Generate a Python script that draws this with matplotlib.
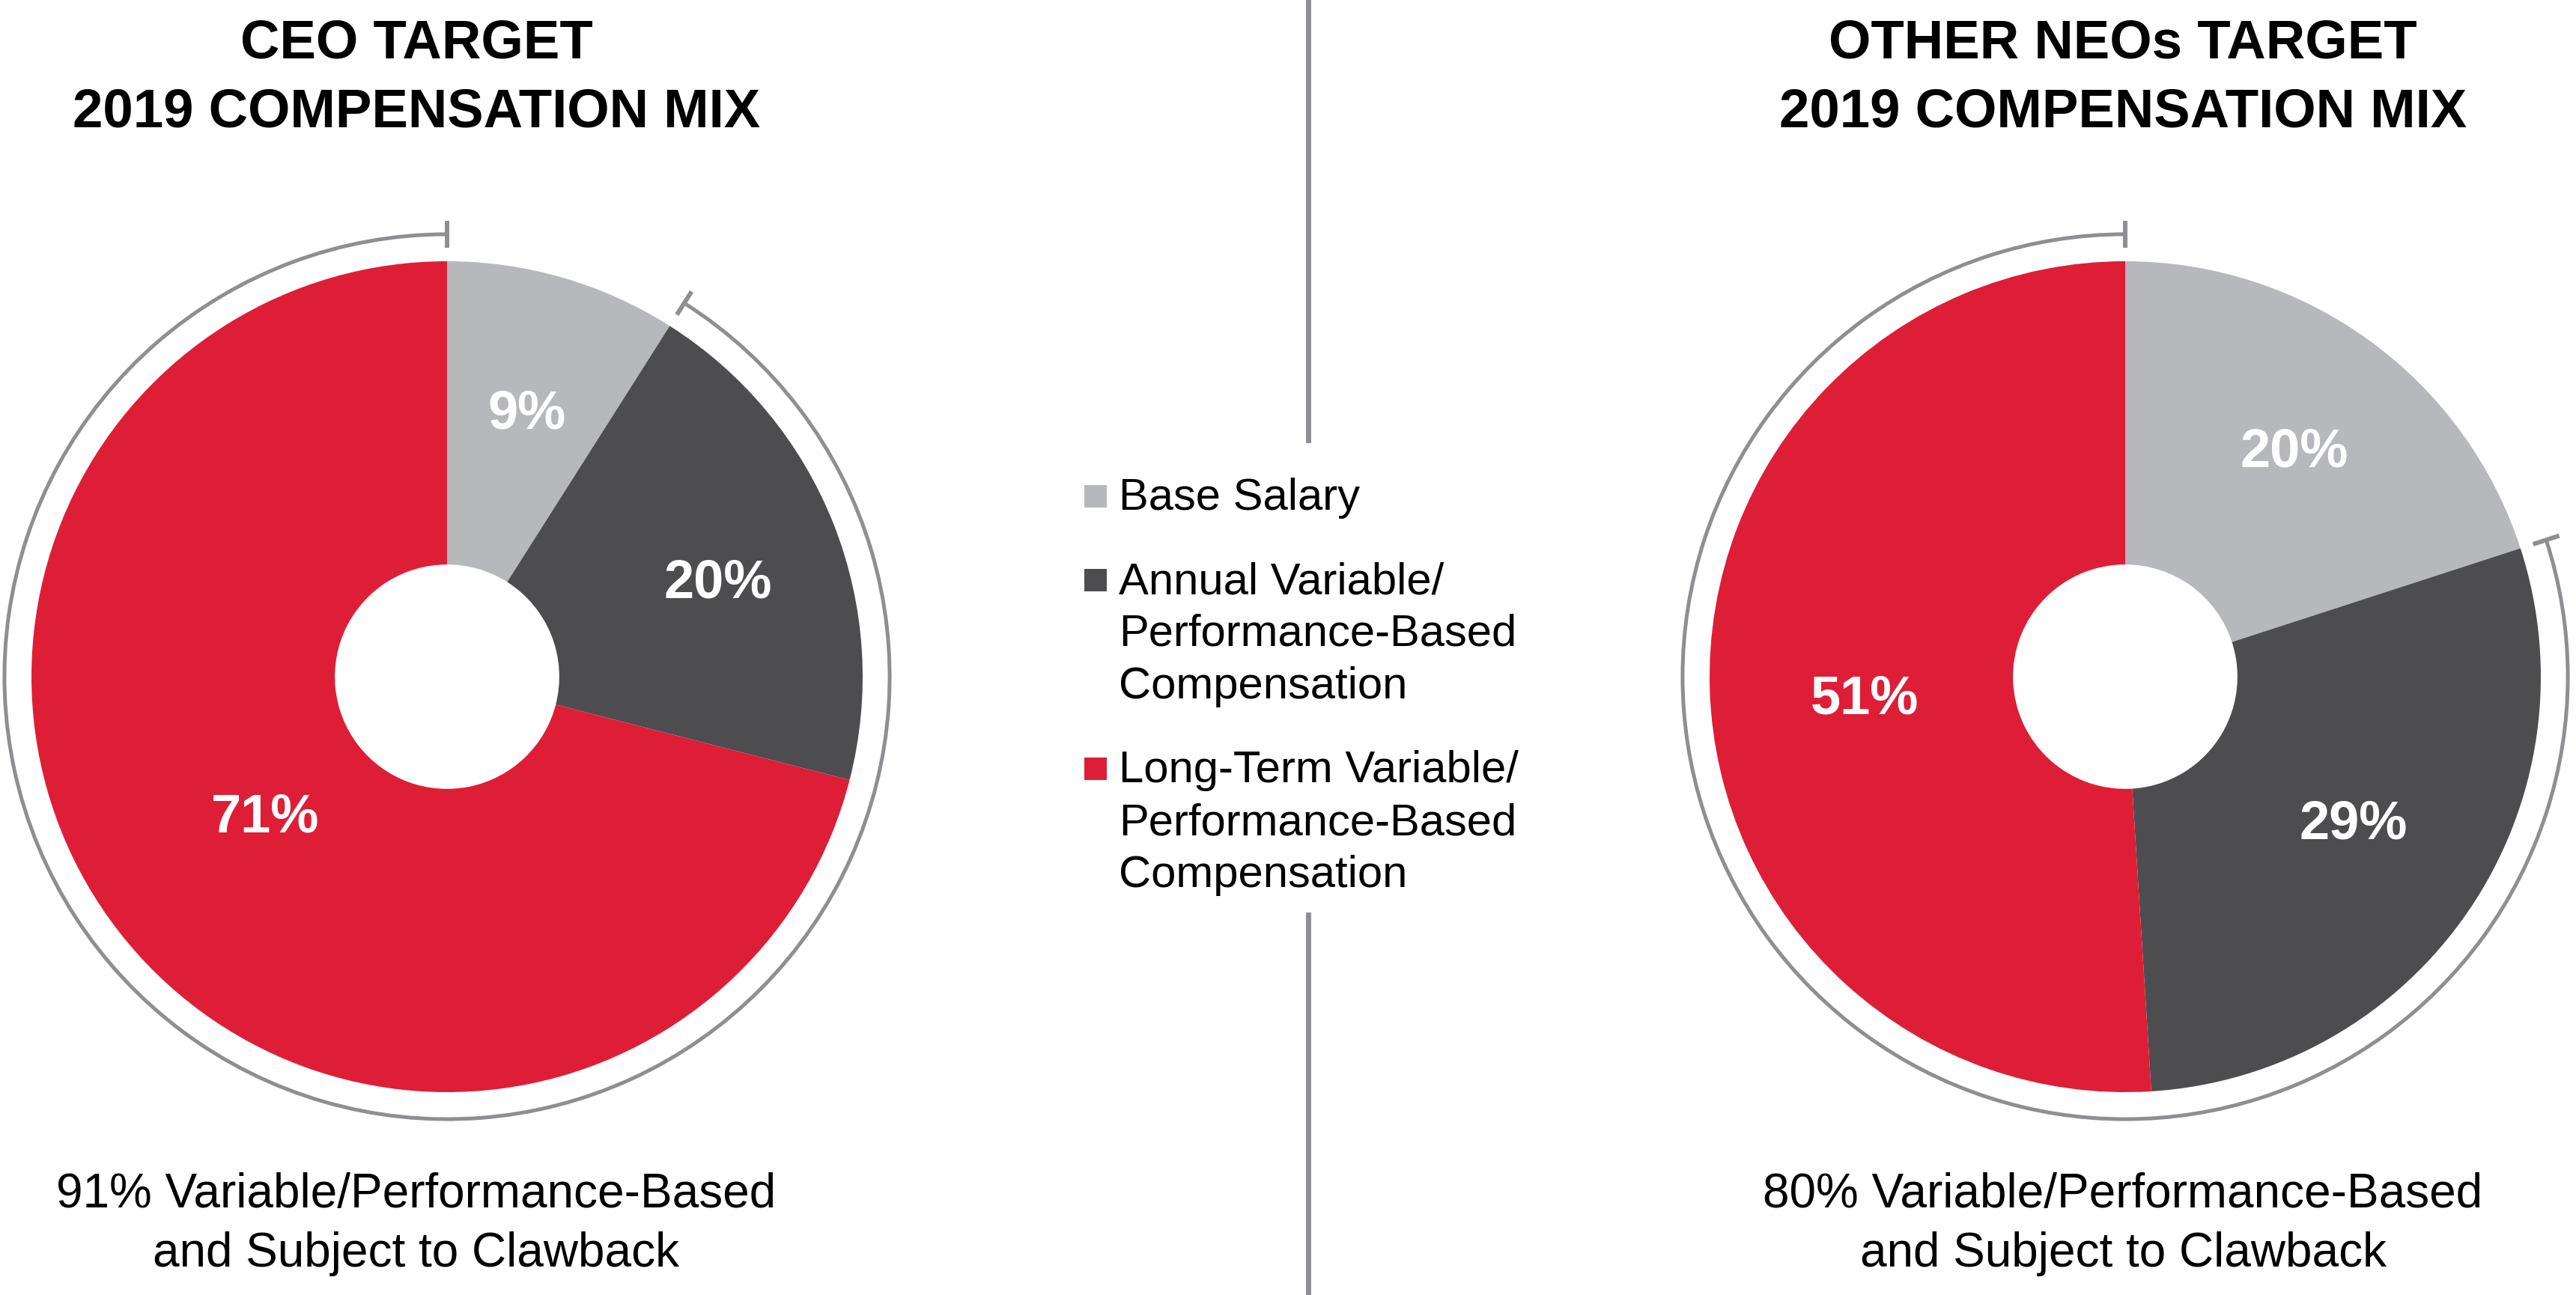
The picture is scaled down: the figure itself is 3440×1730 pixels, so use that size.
import numpy as np
import matplotlib
matplotlib.use("Agg")
import matplotlib.pyplot as plt
from matplotlib.patches import Arc, Rectangle
from matplotlib.lines import Line2D

# data
categories = ["Base Salary",
              "Annual Variable/\nPerformance-Based\nCompensation",
              "Long-Term Variable/\nPerformance-Based\nCompensation"]
ceo_mix = [9, 20, 71]
neo_mix = [20, 29, 51]
titles = ["CEO TARGET\n2019 COMPENSATION MIX",
          "OTHER NEOs TARGET\n2019 COMPENSATION MIX"]
footnotes = ["91% Variable/Performance-Based\nand Subject to Clawback",
             "80% Variable/Performance-Based\nand Subject to Clawback"]

COLORS = ["#B7B8BB", "#4D4D4F", "#DE1E37"]
ARC_GRAY = "#8F8F93"
SANS = "Liberation Sans"

W, H = 3440, 1730
R_PX = 555          # pie radius in pixels
LIM = 1.15
HOLE = 0.27
ARC_R = 1.065

fig = plt.figure(figsize=(W / 100, H / 100), dpi=100)
renderer = fig.canvas.get_renderer()


def fit_lines(cx, baselines, text, target_w, bold):
    """Centre each line on cx; scale the font so the widest line is target_w px."""
    arts = [fig.text(cx / W, 1 - yb / H, s, ha="center", va="baseline",
                     fontsize=40, family=SANS,
                     fontweight="bold" if bold else "normal")
            for s, yb in zip(text.split("\n"), baselines)]
    widest = max(a.get_window_extent(renderer).width for a in arts)
    for a in arts:
        a.set_fontsize(40 * target_w / widest)
    return arts


def donut(cx, cy, values, label_r, label_da):
    half = LIM * R_PX
    ax = fig.add_axes([(cx - half) / W, (H - cy - half) / H, 2 * half / W, 2 * half / H])
    wedges, _ = ax.pie(values, colors=COLORS, startangle=90, counterclock=False,
                       wedgeprops=dict(width=1 - HOLE, edgecolor="none"))
    ax.set_xlim(-LIM, LIM)
    ax.set_ylim(-LIM, LIM)
    ax.axis("off")

    for w, v, rr, da in zip(wedges, values, label_r, label_da):
        mid = np.deg2rad((w.theta1 + w.theta2) / 2 + da)
        ax.text(rr * np.cos(mid), rr * np.sin(mid), f"{v}%", color="white",
                fontsize=52, fontweight="bold", family=SANS,
                ha="center", va="center")

    # bracket arc around the variable part
    end = 90 + 360 * (1 - values[0] / 100)
    ax.add_patch(Arc((0, 0), 2 * ARC_R, 2 * ARC_R, theta1=90, theta2=end,
                     color=ARC_GRAY, lw=3.6))
    for a in (90, end):
        t = np.deg2rad(a)
        ax.plot([(ARC_R - 0.033) * np.cos(t), (ARC_R + 0.033) * np.cos(t)],
                [(ARC_R - 0.033) * np.sin(t), (ARC_R + 0.033) * np.sin(t)],
                color=ARC_GRAY, lw=4.3, solid_capstyle="butt")
    return ax


centers = [(597, 904), (2838, 904)]
donut(*centers[0], ceo_mix, [0.66, 0.69, 0.555], [-0.8, -2.6, 0.0])
donut(*centers[1], neo_mix, [0.675, 0.655, 0.63], [-1.0, 1.2, 3.2])

# titles and footnotes (the left block is centred a bit left of its pie)
text_x = [556, 2835]
for cx, title, foot in zip(text_x, titles, footnotes):
    fit_lines(cx, [78, 169], title, 918, True)
    fit_lines(cx, [1613, 1692], foot, 960, False)

# divider
for y0, y1 in [(0, 588), (1222, 1730)]:
    fig.add_artist(Line2D([1747 / W, 1747 / W], [1 - y0 / H, 1 - y1 / H],
                          transform=fig.transFigure, color=ARC_GRAY, lw=5))

# legend
first_baselines = [681, 793, 1045]
LINE_STEP = 70
for lab, col, yb in zip(categories, COLORS, first_baselines):
    fig.add_artist(Rectangle((1448 / W, 1 - (yb - 3) / H), 30 / W, 30 / H,
                             transform=fig.transFigure, color=col, lw=0))
    for i, s in enumerate(lab.split("\n")):
        fig.text(1494 / W, 1 - (yb + i * LINE_STEP) / H, s, ha="left",
                 va="baseline", fontsize=43, family=SANS)

fig.savefig("out.png", dpi=100, facecolor="white")
